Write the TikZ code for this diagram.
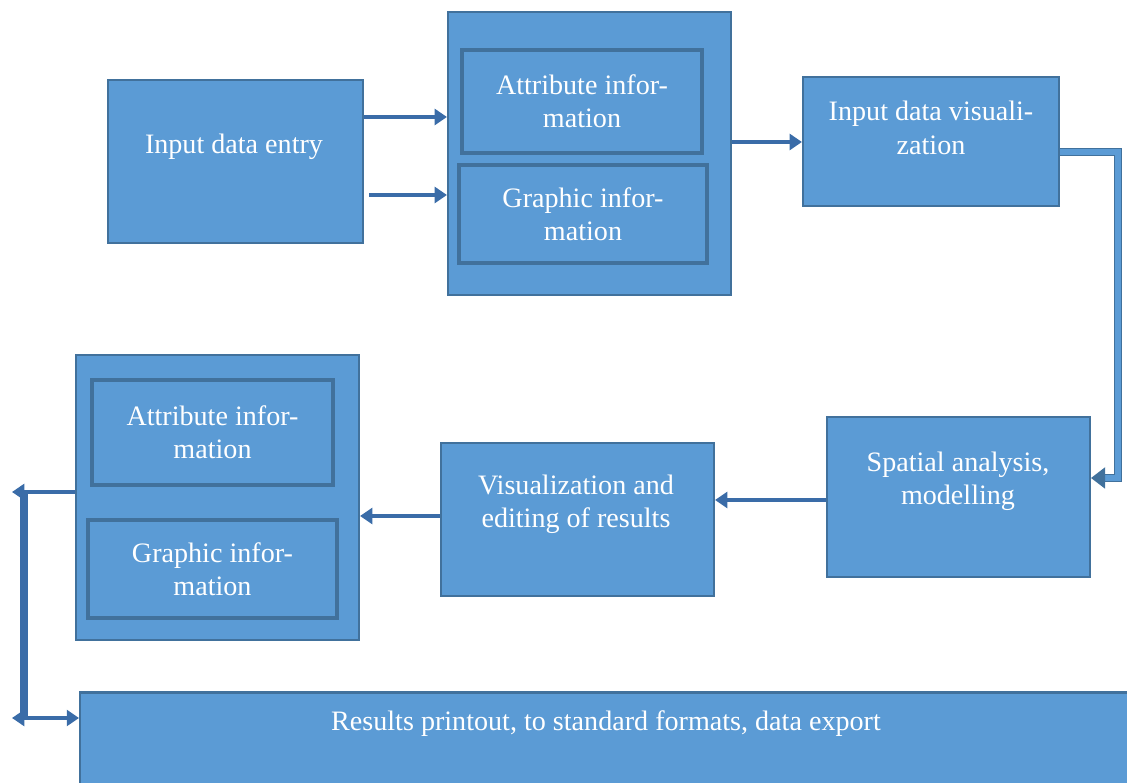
\documentclass[tikz,border=0pt]{standalone}
\usepackage{fontspec}
\setmainfont{Liberation Serif}
\usetikzlibrary{arrows.meta}
\usetikzlibrary{positioning}

\definecolor{boxfill}{RGB}{91,155,213}
\definecolor{boxline}{RGB}{65,113,156}
\definecolor{arrowc}{RGB}{58,108,168}

\tikzset{
  box/.style={draw=boxline, fill=boxfill, line width=1.2pt, text=white,
    align=center, inner sep=0pt, font=\fontsize{16}{19}\selectfont},
  subbox/.style={box, line width=1.8pt},
  conn/.style={draw=arrowc, line width=2.8pt, -{Triangle[length=7pt,width=9pt]}},
  elbow/.style={draw=boxline, double=boxfill, double distance=3pt, line width=1pt,
    -{Triangle[length=8pt,width=12pt]}}
}

\begin{document}
\begin{tikzpicture}[x=0.02cm,y=-0.02cm]
        \useasboundingbox (0,0) rectangle (1127,783);
        \clip (0,0) rectangle (1127,783);
        % Nodes
        \node[box, minimum width=5.1cm, minimum height=3.26cm]   (entry)    at (235.5,161.5) {};
        \node[text=white, font=\fontsize{16}{19}\selectfont] (entrytxt) at (234,147) {Input data entry};

        \node[box, minimum width=5.66cm, minimum height=5.66cm]  (ingroup)  at (589.5,153.5) {};
        \node[subbox, minimum width=4.8cm, minimum height=2.06cm]  (inattr)  at (582,101.5) {Attribute infor-\\mation};
        \node[subbox, minimum width=4.96cm, minimum height=1.96cm] (ingraph) at (583,214) {Graphic infor-\\mation};

        \node[box, minimum width=5.12cm, minimum height=2.58cm]  (invis)    at (931,141.5) {};
        \node[text=white, align=center, font=\fontsize{16}{19}\selectfont] (invistxt) at (931,128) {Input data visuali-\\zation};

        \node[box, minimum width=5.26cm, minimum height=3.2cm]   (spatial)  at (958.5,497) {};
        \node[text=white, align=center, font=\fontsize{16}{19}\selectfont] (spatialtxt) at (958,481) {Spatial analysis,\\modelling};

        \node[box, minimum width=5.46cm, minimum height=3.06cm]  (editres)  at (577.5,519.5) {};
        \node[text=white, align=center, font=\fontsize{16}{19}\selectfont] (editrestxt) at (576,504) {Visualization and\\editing of results};

        \node[box, minimum width=5.66cm, minimum height=5.7cm]   (outgroup) at (217.5,497.5) {};
        \node[subbox, minimum width=4.82cm, minimum height=2.1cm]  (outattr)  at (212.5,432.5) {Attribute infor-\\mation};
        \node[subbox, minimum width=4.98cm, minimum height=1.96cm] (outgraph) at (212.5,569) {Graphic infor-\\mation};

        \node[box, minimum width=21.2cm, minimum height=2.14cm]  (results)  at (610,746) {};
        \node[text=white, font=\fontsize{16}{19}\selectfont] (resultstxt) at (606,724) {Results printout, to standard formats, data export};

        \coordinate (rt) at (1118,152);
        \coordinate (rb) at (1118,478);
        \coordinate (lt) at (12,492);
        \coordinate (lv) at (24,492);
        \coordinate (lb) at (24,718);
        \coordinate (lbb) at (12,718);

        % Edges
        \draw[conn] (entry.east |- 0,117) -- (ingroup.west |- 0,117);
        \draw[conn] ([xshift=5*0.02cm]entry.east |- 0,195) -- (ingroup.west |- 0,195);
        \draw[conn] (ingroup.east |- 0,142) -- (invis.west |- 0,142);
        \draw[elbow] (invis.east |- rt) -- (rt) -- (rb) -- (spatial.east |- rb);
        \draw[conn] (spatial.west |- 0,500) -- (editres.east |- 0,500);
        \draw[conn] (editres.west |- 0,516) -- (outgroup.east |- 0,516);
        \draw[conn] (outgroup.west |- lt) -- (lt);
        \draw[draw=arrowc, line width=4pt] (lv) -- (lb);
        \draw[conn] (lb) -- (results.west |- lb);
        \draw[conn] (lb) -- (lbb);
\end{tikzpicture}
\end{document}
